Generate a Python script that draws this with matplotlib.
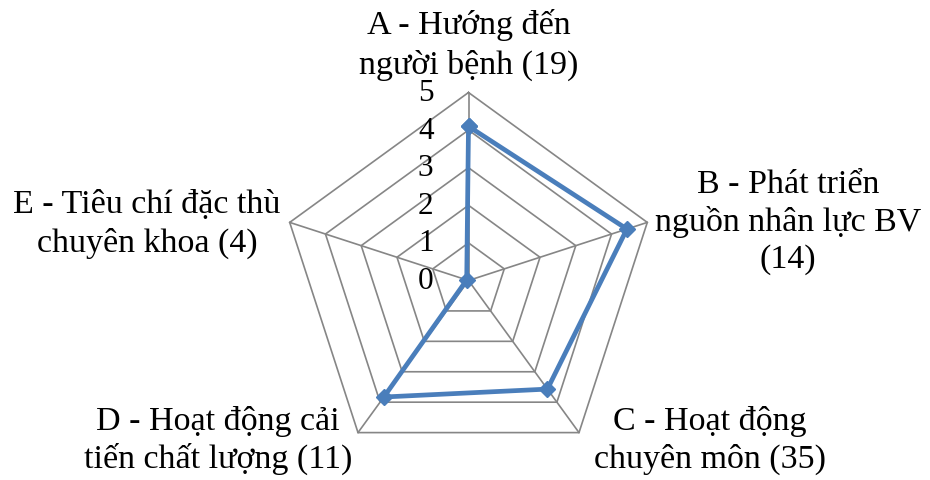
import numpy as np
import matplotlib
matplotlib.use("Agg")
import matplotlib.pyplot as plt
from matplotlib import transforms

categories = [
    ["A - Hướng đến", "người bệnh (19)"],
    ["B - Phát triển", "nguồn nhân lực BV", "(14)"],
    ["C - Hoạt động", "chuyên môn (35)"],
    ["D - Hoạt động cải", "tiến chất lượng (11)"],
    ["E - Tiêu chí đặc thù", "chuyên khoa (4)"],
]
values = [4.1, 4.43, 3.57, 3.83, 0.05]
ticks = [0, 1, 2, 3, 4, 5]

W, H = 930, 481
DPI = 100
FONT = "Liberation Serif"
FS = 24.5
FS_TICK = 22.5
GRID = "#868686"
BLUE = "#4A7EBB"

fig = plt.figure(figsize=(W / DPI, H / DPI), dpi=DPI)

cx, cy, R = 468.5, 281.5, 188.0
ax = fig.add_axes([(cx - R) / W, (H - cy - R) / H, 2 * R / W, 2 * R / H],
                  projection="polar")
ax.set_theta_offset(np.pi / 2)
ax.set_theta_direction(-1)
ax.set_ylim(0, 5)
ax.set_xticks([])
ax.set_yticks([])
ax.grid(False)
ax.spines["polar"].set_visible(False)
ax.patch.set_visible(False)

n = len(values)
angles = np.arange(n) * 2 * np.pi / n
closed = np.append(angles, angles[0])

for t in ticks[1:]:
    ax.plot(closed, [t] * (n + 1), color=GRID, lw=1.2, clip_on=False, zorder=1)
for a in angles:
    ax.plot([a, a], [0, ticks[-1]], color=GRID, lw=1.2, clip_on=False, zorder=1)

vals = np.append(values, values[0])
ax.plot(closed, vals, color=BLUE, lw=3.4, marker="D", ms=8.5,
        markerfacecolor=BLUE, markeredgecolor=BLUE, clip_on=False, zorder=3)

off = transforms.offset_copy(ax.transData, fig=fig, x=-35, y=0, units="dots")
for t in ticks:
    ax.text(0, t, str(t), transform=off, ha="right", va="center",
            fontsize=FS_TICK, family=FONT, zorder=2)

# category labels: (center x, list of baselines) in pixels from top
label_pos = [
    (469, [34, 74]),
    (788, [193, 231, 268]),
    (710, [430, 468]),
    (218, [430, 468]),
    (147, [213, 252]),
]
for lines, (x, ys) in zip(categories, label_pos):
    for line, y in zip(lines, ys):
        fig.text(x / W, 1 - y / H, line, ha="center", va="baseline",
                 fontsize=FS, family=FONT)

fig.savefig("out.png", dpi=DPI)
